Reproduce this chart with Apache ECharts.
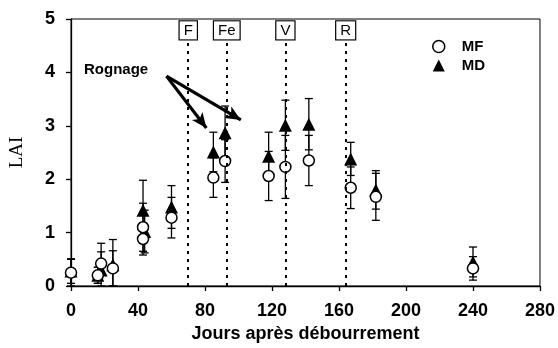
<!DOCTYPE html>
<html>
<head>
<meta charset="utf-8">
<script src="https://cdn.jsdelivr.net/npm/echarts@6/dist/echarts.min.js"></script>
<style>
  html, body { margin: 0; padding: 0; background: #fff; }
  #chart { width: 558px; height: 348px; }
</style>
</head>
<body>
<div id="chart"></div>
<script>
// valeurs
const mfDays = [0, 16, 18, 25, 43, 43, 60, 85, 92, 118, 128, 142, 167, 182, 240];
const mfLai  = [0.25, 0.2, 0.42, 0.33, 1.1, 0.88, 1.28, 2.03, 2.34, 2.06, 2.23, 2.35, 1.84, 1.67, 0.33];
const mfSd   = [0.25, 0.15, 0.22, 0.33, 0.45, 0.3, 0.38, 0.37, 0.4, 0.46, 0.59, 0.47, 0.39, 0.44, 0.22];

const mdDays = [0, 16, 18, 25, 43, 44, 60, 85, 92, 118, 128, 142, 167, 182, 240];
const mdLai  = [0.28, 0.2, 0.3, 0.4, 1.42, 1.02, 1.48, 2.51, 2.87, 2.43, 3.01, 3.03, 2.38, 1.8, 0.45];
const mdSd   = [0.23, 0.15, 0.5, 0.47, 0.56, 0.4, 0.4, 0.37, 0.5, 0.45, 0.47, 0.48, 0.31, 0.36, 0.28];

// stades phénologiques (lignes pointillées)
const stageNames = ['F', 'Fe', 'V', 'R'];
const stageDays  = [70, 93, 128, 164];

// flèches "Rognage" : départ puis pointes
const rognageFrom = [57, 3.93];
const rognageTo   = [[80.8, 2.96], [101.4, 3.11]];

const xTicks = { min: 0, max: 280, interval: 40 };
const yTicks = { min: 0, max: 5, interval: 1 };

const chart = echarts.init(document.getElementById('chart'));

const pairs = (xs, ys, es) => xs.map((x, i) => [x, ys[i], es[i]]);

// barres d'erreur (±)
function errorBar(params, api) {
  const x = api.value(0), y = api.value(1), e = api.value(2);
  const lo = api.coord([x, Math.max(0, y - e)]);
  const hi = api.coord([x, y + e]);
  const w = 4;
  const style = { stroke: '#000', lineWidth: 1.3 };
  return {
    type: 'group',
    children: [
      { type: 'line', shape: { x1: hi[0], y1: hi[1], x2: lo[0], y2: lo[1] }, style },
      { type: 'line', shape: { x1: hi[0] - w, y1: hi[1], x2: hi[0] + w, y2: hi[1] }, style },
      { type: 'line', shape: { x1: lo[0] - w, y1: lo[1], x2: lo[0] + w, y2: lo[1] }, style }
    ]
  };
}

const boldFont = { fontFamily: 'Liberation Sans, Arial, sans-serif', fontWeight: 'bold', color: '#000' };

chart.setOption({
  animation: false,
  backgroundColor: '#fff',
  grid: { left: 67, right: 16, top: 19, bottom: 62, show: true, borderColor: '#000', borderWidth: 1 },
  legend: {
    orient: 'vertical',
    left: 427,
    top: 34,
    itemGap: 4,
    itemWidth: 12,
    itemHeight: 12,
    textStyle: Object.assign({ fontSize: 15, padding: [0, 0, 0, 12] }, boldFont),
    data: [
      { name: 'MF', icon: 'circle', itemStyle: { color: '#fff', borderColor: '#000', borderWidth: 1.5 } },
      { name: 'MD', icon: 'triangle', itemStyle: { color: '#000', opacity: 1 } }
    ]
  },
  xAxis: {
    type: 'value',
    min: xTicks.min, max: xTicks.max, interval: xTicks.interval,
    name: 'Jours après débourrement',
    nameLocation: 'middle',
    nameGap: 39,
    nameTextStyle: Object.assign({ fontSize: 18 }, boldFont),
    axisLine: { lineStyle: { color: '#000', width: 1.3 } },
    axisTick: { lineStyle: { color: '#000', width: 1.3 }, length: 5 },
    axisLabel: Object.assign({ fontSize: 18, margin: 16 }, boldFont),
    splitLine: { show: false }
  },
  yAxis: {
    type: 'value',
    min: yTicks.min, max: yTicks.max, interval: yTicks.interval,
    name: 'LAI',
    nameLocation: 'middle',
    nameGap: 44,
    nameTextStyle: { fontFamily: 'Liberation Serif, Times New Roman, serif', fontSize: 19, color: '#000' },
    axisLine: { show: true, lineStyle: { color: '#000', width: 1.3 } },
    axisTick: { show: true, lineStyle: { color: '#000', width: 1.3 }, length: 5 },
    axisLabel: Object.assign({ fontSize: 18, margin: 16 }, boldFont),
    splitLine: { show: false }
  },
  graphic: [
    {
      type: 'text', left: 84, top: 62,
      style: { text: 'Rognage', font: 'bold 15px "Liberation Sans", Arial, sans-serif', fill: '#000' }
    }
  ],
  series: [
    {
      name: 'stades',
      type: 'scatter',
      data: [],
      silent: true,
      markLine: {
        silent: true,
        symbol: ['none', 'none'],
        lineStyle: { color: '#000', type: [3, 5], width: 2 },
        label: {
          show: true,
          position: 'end',
          distance: 1,
          formatter: '{b}',
          fontFamily: 'Liberation Sans, Arial, sans-serif',
          fontSize: 15,
          color: '#000',
          backgroundColor: '#fff',
          borderColor: '#000',
          borderWidth: 1.2,
          padding: [2, 4, 1, 4]
        },
        data: stageDays.map((d, i) => [
          { coord: [d, 0], name: stageNames[i] },
          { coord: [d, 4.6] }
        ])
      }
    },
    {
      name: 'rognage',
      type: 'scatter',
      data: [],
      silent: true,
      markLine: {
        silent: true,
        symbol: ['none', 'arrow'],
        symbolSize: [10, 15],
        lineStyle: { color: '#000', type: 'solid', width: 3.2 },
        label: { show: false },
        data: rognageTo.map(p => [{ coord: rognageFrom }, { coord: p }])
      }
    },
    {
      name: 'errMF',
      type: 'custom',
      renderItem: errorBar,
      data: pairs(mfDays, mfLai, mfSd),
      z: 2,
      silent: true
    },
    {
      name: 'errMD',
      type: 'custom',
      renderItem: errorBar,
      data: pairs(mdDays, mdLai, mdSd),
      z: 2,
      silent: true
    },
    {
      name: 'MD',
      type: 'scatter',
      symbol: 'triangle',
      symbolSize: 13,
      itemStyle: { color: '#000', opacity: 1 },
      data: mdDays.map((d, i) => [d, mdLai[i]]),
      z: 3
    },
    {
      name: 'MF',
      type: 'scatter',
      symbol: 'circle',
      symbolSize: 11,
      itemStyle: { color: '#fff', borderColor: '#000', borderWidth: 1.5, opacity: 1 },
      data: mfDays.map((d, i) => [d, mfLai[i]]),
      z: 4
    }
  ]
});
</script>
</body>
</html>
